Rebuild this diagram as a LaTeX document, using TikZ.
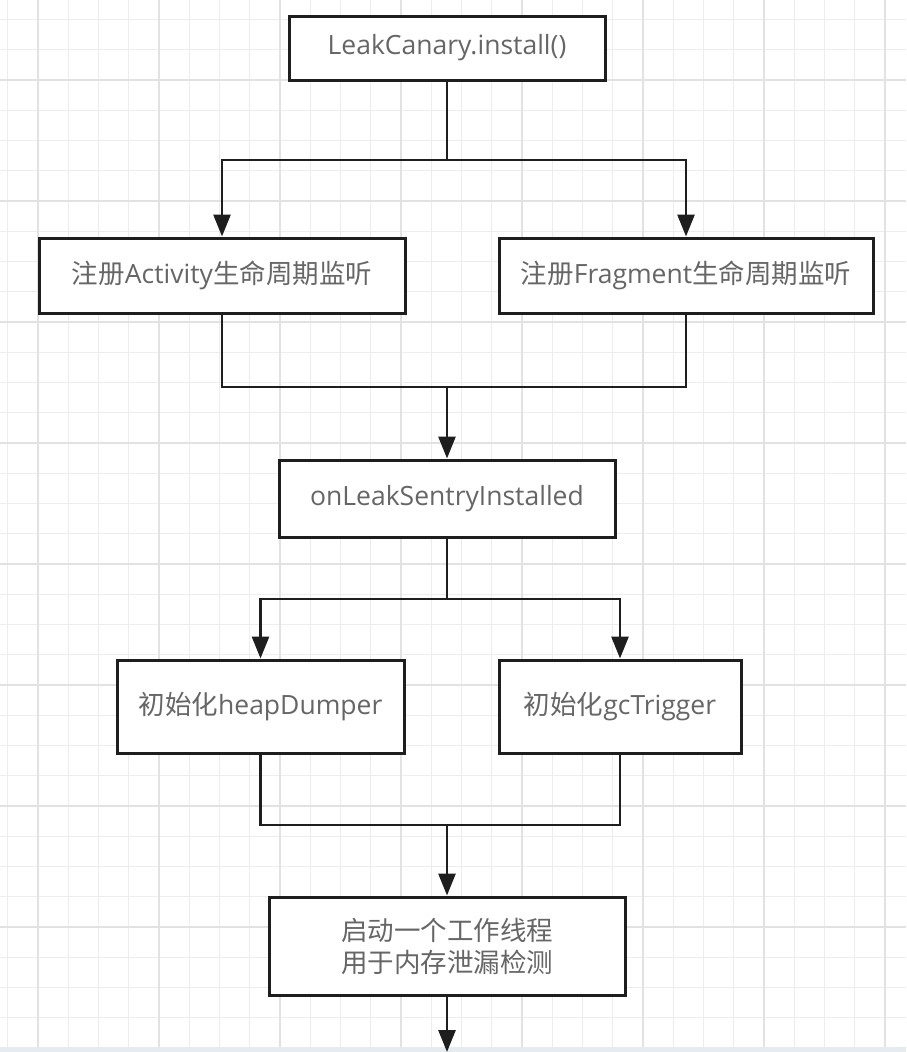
\documentclass[tikz,border=0pt]{standalone}
\usepackage{fontspec}
\setmainfont{Open Sans}
\newfontfamily\cjk{Noto Sans CJK SC}
\usetikzlibrary{arrows.meta}
\newcommand{\zh}[1]{{\cjk #1}}
\definecolor{gridminor}{HTML}{EDEDED}
\definecolor{gridmajor}{HTML}{E2E2E2}
\definecolor{txt}{HTML}{666666}
\definecolor{ln}{HTML}{1E1E1E}
\definecolor{strip}{HTML}{E6EBF0}
\tikzset{
  box/.style={draw=ln, line width=3pt, fill=white, minimum width=#1, inner sep=0pt, align=center,
     text=txt, font=\fontsize{26.5}{32}\selectfont},
  conn/.style={draw=ln, line width=2.8pt, line join=miter},
  arr/.style={conn, -{Triangle[length=22pt,width=17pt]}},
}
\begin{document}
\begin{tikzpicture}[x=1pt,y=-1pt]
\useasboundingbox (0,0) rectangle (906,1052);
\fill[white] (0,0) rectangle (906,1052);
% grid
\foreach \i in {0,...,29} {
  \draw[gridminor, line width=1.1pt] ({7.75+30.25*\i},0) -- ({7.75+30.25*\i},1052);
}
\foreach \j in {0,...,34} {
  \draw[gridminor, line width=1.1pt] (0,{19.5+30.25*\j}) -- (906,{19.5+30.25*\j});
}
\foreach \i in {0,...,7} {
  \draw[gridmajor, line width=1.8pt] ({38+121*\i},0) -- ({38+121*\i},1052);
}
\foreach \j in {0,...,8} {
  \draw[gridmajor, line width=1.8pt] (0,{80+121*\j}) -- (906,{80+121*\j});
}
\fill[strip] (0,1047) rectangle (906,1052);
% boxes
\node[box=316pt, minimum height=64pt] (b1) at (447,48) {LeakCanary.install()};
\node[box=366pt, minimum height=75pt] (b2) at (222,275.5) {\zh{注册}Activity\zh{生命周期监听}};
\node[box=374pt, minimum height=75pt] (b3) at (686,275.5) {\zh{注册}Fragment\zh{生命周期监听}};
\node[box=336pt, minimum height=77pt] (b4) at (447,498.5) {onLeakSentryInstalled};
\node[box=287pt, minimum height=93pt] (b5) at (260.5,706.5) {\zh{初始化}heapDumper};
\node[box=242pt, minimum height=93pt] (b6) at (620,706.5) {\zh{初始化}gcTrigger};
\node[box=356pt, minimum height=98pt] (b7) at (447,946) {\zh{启动一个工作线程}\\\zh{用于内存泄漏检测}};
% junctions
\coordinate (s1) at (447,160);
\coordinate (m1) at (447,387);
\coordinate (s2) at (447,599);
\coordinate (m2) at (447,825);
\coordinate (e1) at (447,1052);
% connectors
\draw[conn] (b1.south) -- (s1);
\draw[arr] (s1) -| (b2.north);
\draw[arr] (s1) -| (b3.north);
\draw[conn] (b2.south) |- (m1);
\draw[conn] (b3.south) |- (m1);
\draw[arr] (m1) -- (b4.north);
\draw[conn] (b4.south) -- (s2);
\draw[arr] (s2) -| (b5.north);
\draw[arr] (s2) -| (b6.north);
\draw[conn] (b5.south) |- (m2);
\draw[conn] (b6.south) |- (m2);
\draw[arr] (m2) -- (b7.north);
\draw[arr] (b7.south) -- (e1);
\end{tikzpicture}
\end{document}
